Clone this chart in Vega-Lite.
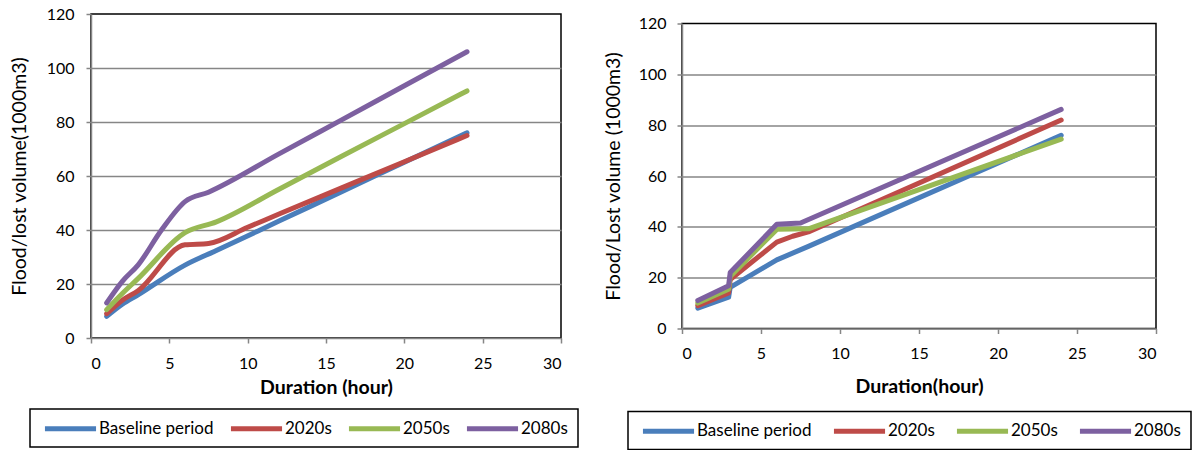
{
  "$schema": "https://vega.github.io/schema/vega-lite/v6.json",
  "padding": {"left": 8, "top": 5, "right": 0, "bottom": 0},
  "background": "white",
  "bounds": "flush",
  "center": true,
  "spacing": 121,
  "config": {
    "font": "Lato",
    "view": {"stroke": "#000000", "strokeWidth": 1.5},
    "axis": {
      "domainColor": "#868686", "domainWidth": 1.5,
      "tickColor": "#868686", "tickSize": 5, "tickWidth": 1.5,
      "labelFont": "Lato", "labelFontSize": 16, "labelColor": "#000000",
      "titleFont": "Lato", "titleColor": "#000000",
      "gridColor": "#868686", "gridWidth": 1.5
    },
    "line": {"strokeWidth": 5, "strokeCap": "round", "strokeJoin": "round"},
    "legend": {
      "orient": "none", "direction": "horizontal", "title": null,
      "symbolType": "M-0.65,0H6.65", "symbolSize": 196, "symbolStrokeWidth": 5,
      "labelFont": "Lato", "labelFontSize": 17, "labelColor": "#000000",
      "labelOffset": 40, "columnPadding": 12, "padding": 10,
      "strokeColor": "#000000", "strokeWidth": 1.5
    }
  },
  "datasets": {
    "left": [
      {"series": "Baseline period", "x": 1, "y": 8},
      {"series": "Baseline period", "x": 2, "y": 12.5},
      {"series": "Baseline period", "x": 3, "y": 16},
      {"series": "Baseline period", "x": 6, "y": 27},
      {"series": "Baseline period", "x": 8, "y": 32.4},
      {"series": "Baseline period", "x": 12, "y": 43.3},
      {"series": "Baseline period", "x": 16, "y": 54.2},
      {"series": "Baseline period", "x": 20, "y": 65.1},
      {"series": "Baseline period", "x": 24, "y": 76},
      {"series": "2020s", "x": 1, "y": 9},
      {"series": "2020s", "x": 2, "y": 14},
      {"series": "2020s", "x": 3, "y": 17.5},
      {"series": "2020s", "x": 6, "y": 34.5},
      {"series": "2020s", "x": 7.5, "y": 35},
      {"series": "2020s", "x": 10, "y": 41},
      {"series": "2020s", "x": 12, "y": 45.9},
      {"series": "2020s", "x": 16, "y": 55.6},
      {"series": "2020s", "x": 20, "y": 65.3},
      {"series": "2020s", "x": 24, "y": 75},
      {"series": "2050s", "x": 1, "y": 10.5},
      {"series": "2050s", "x": 2, "y": 16.5},
      {"series": "2050s", "x": 3, "y": 22},
      {"series": "2050s", "x": 6, "y": 39},
      {"series": "2050s", "x": 8, "y": 43},
      {"series": "2050s", "x": 12, "y": 55.1},
      {"series": "2050s", "x": 16, "y": 67.3},
      {"series": "2050s", "x": 20, "y": 79.4},
      {"series": "2050s", "x": 24, "y": 91.5},
      {"series": "2080s", "x": 1, "y": 13},
      {"series": "2080s", "x": 2, "y": 21},
      {"series": "2080s", "x": 3, "y": 27},
      {"series": "2080s", "x": 4.5, "y": 40},
      {"series": "2080s", "x": 6, "y": 50.5},
      {"series": "2080s", "x": 7.5, "y": 54},
      {"series": "2080s", "x": 12, "y": 68.2},
      {"series": "2080s", "x": 16, "y": 80.8},
      {"series": "2080s", "x": 20, "y": 93.4},
      {"series": "2080s", "x": 24, "y": 106}
    ],
    "right": [
      {"series": "Baseline period", "x": 1, "y": 8},
      {"series": "Baseline period", "x": 2.95, "y": 12.3},
      {"series": "Baseline period", "x": 3.05, "y": 16.2},
      {"series": "Baseline period", "x": 6, "y": 27},
      {"series": "Baseline period", "x": 8, "y": 32.3},
      {"series": "Baseline period", "x": 24, "y": 76},
      {"series": "2020s", "x": 1, "y": 9},
      {"series": "2020s", "x": 2.95, "y": 14},
      {"series": "2020s", "x": 3.05, "y": 19.3},
      {"series": "2020s", "x": 6, "y": 34},
      {"series": "2020s", "x": 7, "y": 36.3},
      {"series": "2020s", "x": 8, "y": 38},
      {"series": "2020s", "x": 24, "y": 82},
      {"series": "2050s", "x": 1, "y": 10},
      {"series": "2050s", "x": 2.95, "y": 15.5},
      {"series": "2050s", "x": 3.05, "y": 20.5},
      {"series": "2050s", "x": 6, "y": 39},
      {"series": "2050s", "x": 8, "y": 39.2},
      {"series": "2050s", "x": 24, "y": 74.5},
      {"series": "2080s", "x": 1, "y": 11},
      {"series": "2080s", "x": 2.95, "y": 16.8},
      {"series": "2080s", "x": 3.05, "y": 22},
      {"series": "2080s", "x": 6, "y": 41},
      {"series": "2080s", "x": 7.5, "y": 41.5},
      {"series": "2080s", "x": 24, "y": 86.2}
    ]
  },
  "resolve": {"scale": {"color": "independent"}, "legend": {"color": "independent"}},
  "hconcat": [
    {
      "width": 470, "height": 324,
      "data": {"name": "left"},
      "mark": {"type": "line", "interpolate": "monotone"},
      "encoding": {
        "x": {"field": "x", "type": "quantitative",
          "scale": {"domain": [0, 30], "nice": false, "zero": true},
          "axis": {"values": [0, 5, 10, 15, 20, 25, 30], "grid": false, "title": "Duration (hour)",
            "titleFontWeight": "bold", "titleFontSize": 19.5, "labelPadding": 12, "titlePadding": 7}},
        "y": {"field": "y", "type": "quantitative",
          "scale": {"domain": [0, 120], "nice": false},
          "axis": {"values": [0, 20, 40, 60, 80, 100, 120], "title": "Flood/lost volume(1000m3)",
            "titleFontWeight": "normal", "titleFontSize": 19.5, "labelPadding": 12, "titlePadding": 17,
            "gridColor": {"condition": {"test": "datum.value === 120 || datum.value === 0", "value": "transparent"}, "value": "#868686"}}},
        "color": {"field": "series", "type": "nominal",
          "scale": {"domain": ["Baseline period", "2020s", "2050s", "2080s"], "range": ["#4A7EBB", "#BE4B48", "#98B954", "#7D60A0"]},
          "legend": {"legendX": -61, "legendY": 395, "columnPadding": 12,
            "encode": {"symbols": {"update": {"strokeCap": {"value": "round"}}}}}}
      }
    },
    {
      "width": 474, "height": 305,
      "data": {"name": "right"},
      "mark": {"type": "line", "interpolate": "linear"},
      "encoding": {
        "x": {"field": "x", "type": "quantitative",
          "scale": {"domain": [0, 30], "nice": false, "zero": true},
          "axis": {"values": [0, 5, 10, 15, 20, 25, 30], "grid": false, "title": "Duration(hour)",
            "titleFontWeight": "bold", "titleFontSize": 19.5, "labelPadding": 12, "titlePadding": 16}},
        "y": {"field": "y", "type": "quantitative",
          "scale": {"domain": [0, 120], "nice": false},
          "axis": {"values": [0, 20, 40, 60, 80, 100, 120], "title": "Flood/Lost volume (1000m3)",
            "titleFontWeight": "normal", "titleFontSize": 19.5, "labelPadding": 11, "titlePadding": 14.5,
            "gridColor": {"condition": {"test": "datum.value === 120 || datum.value === 0", "value": "transparent"}, "value": "#868686"}}},
        "color": {"field": "series", "type": "nominal",
          "scale": {"domain": ["Baseline period", "2020s", "2050s", "2080s"], "range": ["#4A7EBB", "#BE4B48", "#98B954", "#7D60A0"]},
          "legend": {"legendX": -54, "legendY": 388, "columnPadding": 17,
            "encode": {"symbols": {"update": {"strokeCap": {"value": "round"}}}}}}
      }
    }
  ]
}
